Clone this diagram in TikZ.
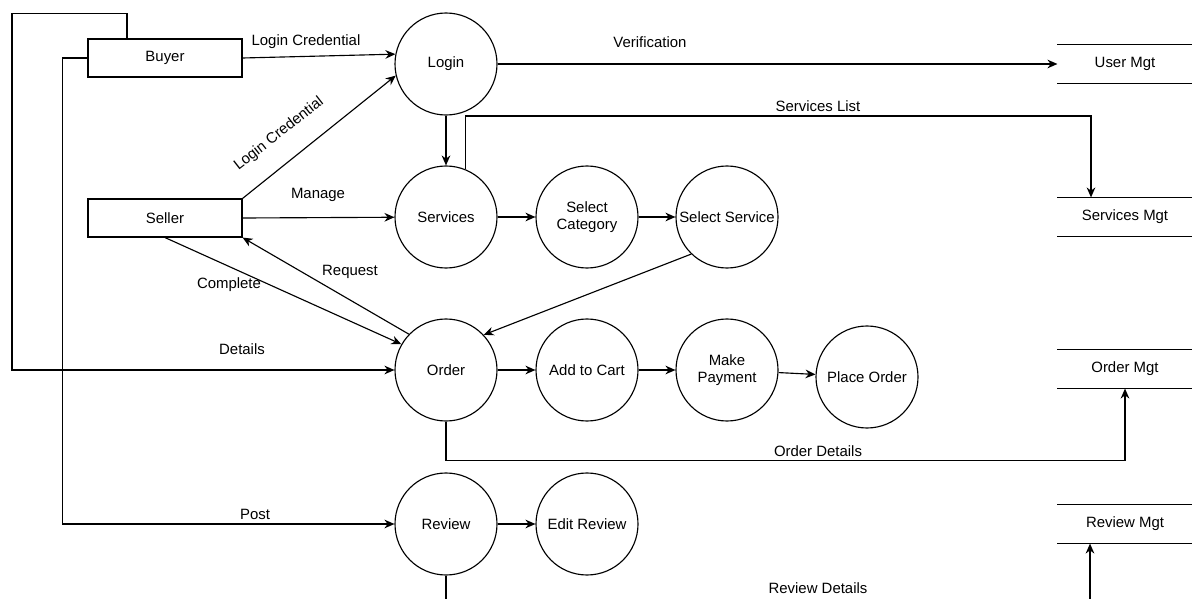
\documentclass[tikz,border=0pt]{standalone}
\usepackage{fontspec}
\setmainfont{Liberation Sans}
\usetikzlibrary{arrows.meta}

\tikzset{
  proc/.style={draw, circle, minimum size=76.5pt, inner sep=0pt, align=center},
  ent/.style={draw, rectangle, minimum width=115.5pt, minimum height=28.5pt},
  store/.style={minimum width=100.5pt, minimum height=28.5pt,
    append after command={(\tikzlastnode.north west) edge (\tikzlastnode.north east)
      (\tikzlastnode.south west) edge (\tikzlastnode.south east)}},
  flow/.style={-{Stealth[length=7.5pt,width=6.5pt]}},
  lbl/.style={inner sep=1pt},
}

\begin{document}
\begin{tikzpicture}[x=0.75pt, y=-0.75pt, line width=0.85pt, font=\fontsize{11.2}{13}\selectfont]
    \useasboundingbox (0,0) rectangle (1192,599);

    % External entities
    \node[ent] (buyer) at (165,58) {Buyer};
    \node[ent] (seller) at (165,218) {Seller};

    % Processes
    \node[proc] (login) at (446,64) {Login};
    \node[proc] (services) at (446,217) {Services};
    \node[proc] (selcat) at (587,217) {Select\\Category};
    \node[proc] (selsvc) at (727,217) {Select Service};
    \node[proc] (order) at (446,370) {Order};
    \node[proc] (cart) at (587,370) {Add to Cart};
    \node[proc] (payment) at (727,370) {Make\\Payment};
    \node[proc] (place) at (867,377) {Place Order};
    \node[proc] (review) at (446,524) {Review};
    \node[proc] (edit) at (587,524) {Edit Review};

    % Data stores
    \node[store] (usermgt) at (1125,64) {User Mgt};
    \node[store] (svcmgt) at (1125,217) {Services Mgt};
    \node[store] (ordmgt) at (1125,369) {Order Mgt};
    \node[store] (revmgt) at (1125,524) {Review Mgt};

    % Free ends and bends
    \coordinate (svcturn) at (1091,116);
    \coordinate (revout) at (446,599);
    \coordinate (revin) at (1090,599);

    % Flows from the entities
    \draw[flow] (buyer.east) -- (login.169);
    \draw[flow] (seller.north east) -- (login.193);
    \draw[flow] (seller.east) -- (services);
    \draw[flow] (seller.south) -- (order.150);
    \draw[flow] (order.136) -- (seller.south east);
    \draw[flow] ([xshift=-28.5pt]buyer.north) -- ++(0,-25) -| (12,370) -- (order);
    \draw[flow] (buyer.west) -- ++(-25,0) |- (review);

    % Flows between processes
    \draw[flow] (login) -- (services);
    \draw[flow] (services) -- (selcat);
    \draw[flow] (selcat) -- (selsvc);
    \draw[flow] (selsvc.226) -- (order.43);
    \draw[flow] (order) -- (cart);
    \draw[flow] (cart) -- (payment);
    \draw[flow] (payment) -- (place);
    \draw[flow] (review) -- (edit);

    % Flows to the data stores
    \draw[flow] (login) -- (usermgt.west);
    \draw[flow] (services.68) |- (svcturn) -- (svcturn |- svcmgt.north);
    \draw[flow] (order.south) -- ++(0,39) -| (ordmgt.south);
    \draw (review.south) -- (revout);
    \draw[flow] (revin) -- (revin |- revmgt.south);

    % Label the flows
    \node[lbl] (lcred) at (306,42) {Login Credential};
    \node[lbl, rotate=38] (lcred2) at (279,134) {Login Credential};
    \node[lbl] (lverif) at (650,42) {Verification};
    \node[lbl] (lsvclist) at (818,106) {Services List};
    \node[lbl] (lmanage) at (318,195) {Manage};
    \node[lbl] (lrequest) at (350,272) {Request};
    \node[lbl] (lcomplete) at (229,285) {Complete};
    \node[lbl] (ldetails) at (242,349) {Details};
    \node[lbl] (lorddet) at (818,451) {Order Details};
    \node[lbl] (lpost) at (255,514) {Post};
    \node[lbl] (lrevdet) at (818,588) {Review Details};
\end{tikzpicture}
\end{document}
